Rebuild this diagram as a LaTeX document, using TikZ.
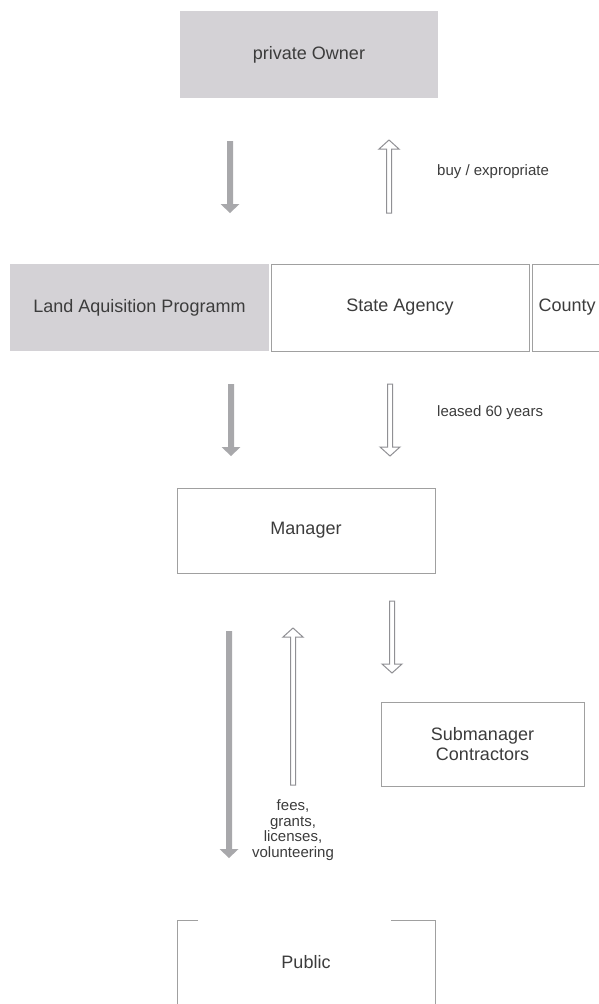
\documentclass[tikz,border=0pt]{standalone}
\usepackage{fontspec}
\setmainfont{Liberation Sans}
\usetikzlibrary{calc}
\definecolor{boxfill}{HTML}{D4D2D6}
\definecolor{boxline}{HTML}{A0A0A0}
\definecolor{arrfill}{HTML}{A8A8AB}
\definecolor{arrline}{HTML}{909094}
\definecolor{txt}{HTML}{3C3C3C}
\tikzset{
  box/.style={rectangle, inner sep=0pt, minimum width=258pt, minimum height=87pt,
    text=txt, font=\fontsize{18}{20}\selectfont},
  filledbox/.style={box, fill=boxfill},
  linebox/.style={box, draw=boxline, line width=1pt},
  lbl/.style={text=txt, font=\fontsize{15}{15.5}\selectfont, inner sep=0pt},
  blockarrow/.style 2 args={to path={
    ($(\tikztostart)!#1!90:(\tikztotarget)$)
    -- ($($(\tikztotarget)!9pt!(\tikztostart)$)!#1!90:(\tikztotarget)$)
    -- ($($(\tikztotarget)!9pt!(\tikztostart)$)!#2!90:(\tikztotarget)$)
    -- (\tikztotarget)
    -- ($($(\tikztotarget)!9pt!(\tikztostart)$)!#2!-90:(\tikztotarget)$)
    -- ($($(\tikztotarget)!9pt!(\tikztostart)$)!#1!-90:(\tikztotarget)$)
    -- ($(\tikztostart)!#1!-90:(\tikztotarget)$)
    -- cycle}},
  solidarrow/.style={fill=arrfill, draw=none, blockarrow={3pt}{9.5pt}},
  hollowarrow/.style={fill=white, draw=arrline, line width=1pt, line join=miter, blockarrow={2.5pt}{10pt}},
}
\begin{document}
\begin{tikzpicture}[x=1pt, y=-1pt]
\useasboundingbox (0,0) rectangle (599,1004);
\fill[white] (0,0) rectangle (599,1004);

% boxes
\node[filledbox] (owner) at (309,54.5) {private Owner};
\node[filledbox, minimum width=259pt] (land) at (139.5,307.5) {Land Aquisition Programm};
\node[linebox] (state) at (400,307.5) {State Agency};
\node[linebox, anchor=west, minimum width=0pt, text width=110pt, align=left, inner xsep=6pt] (county) at (532,307.5) {County};
\node[linebox, minimum height=85pt] (manager) at (306,530.5) {Manager};
\node[linebox, minimum width=203pt, minimum height=84pt, align=center] (sub) at (482.5,744) {Submanager\\Contractors};
\node[text=txt, font=\fontsize{18}{20}\selectfont, inner sep=0pt] (public) at (306,962) {Public};

% public frame (open)
\coordinate (pa) at (198,920);
\coordinate (pb) at (177,920);
\coordinate (pc) at (177,1010);
\coordinate (pd) at (391,920);
\coordinate (pe) at (435,920);
\coordinate (pf) at (435,1010);
\draw[boxline, line width=1pt] (pa) -- (pb) -- (pc);
\draw[boxline, line width=1pt] (pd) -- (pe) -- (pf);

% arrow end points
\coordinate (a1s) at (230,141);  \coordinate (a1t) at (230,213);
\coordinate (a2s) at (389,213);  \coordinate (a2t) at (389,140);
\coordinate (a3s) at (231,384);  \coordinate (a3t) at (231,456);
\coordinate (a4s) at (390,384);  \coordinate (a4t) at (390,456);
\coordinate (a5s) at (392,601);  \coordinate (a5t) at (392,673);
\coordinate (a6s) at (229,631);  \coordinate (a6t) at (229,858);
\coordinate (a7s) at (293,785);  \coordinate (a7t) at (293,628);

\path[solidarrow] (a1s) to (a1t);
\path[hollowarrow] (a2s) to (a2t);
\path[solidarrow] (a3s) to (a3t);
\path[hollowarrow] (a4s) to (a4t);
\path[hollowarrow] (a5s) to (a5t);
\path[solidarrow] (a6s) to (a6t);
\path[hollowarrow] (a7s) to (a7t);

% labels
\node[lbl, anchor=west] (buy) at (437,172) {buy / expropriate};
\node[lbl, anchor=west] (leased) at (437,413) {leased 60 years};
\node[lbl, align=center] (fees) at (293,830) {fees,\\grants,\\licenses,\\volunteering};
\end{tikzpicture}
\end{document}
